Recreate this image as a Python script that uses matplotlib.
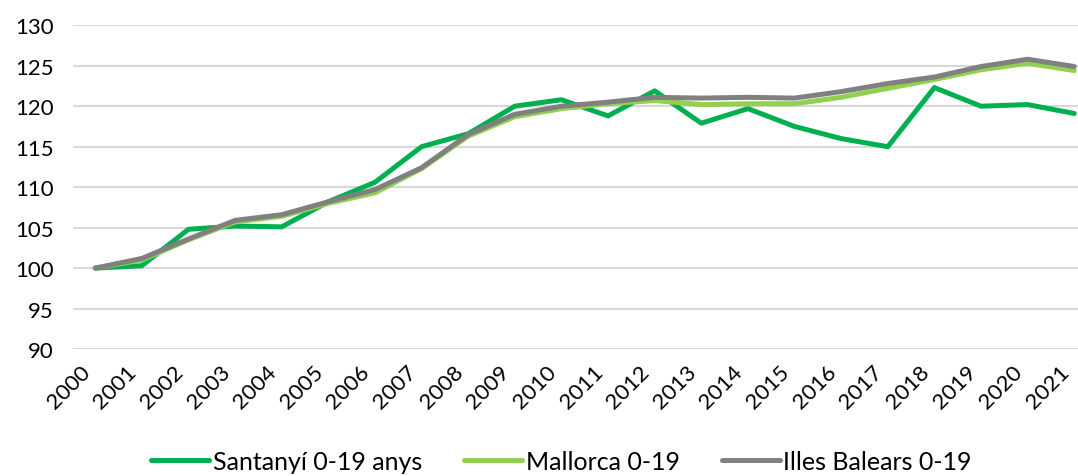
import numpy as np
import matplotlib
matplotlib.use("Agg")
from matplotlib import pyplot as plt
from matplotlib.transforms import ScaledTranslation

anys = [str(a) for a in range(2000, 2022)]

santanyi = [100.0, 100.3, 104.8, 105.2, 105.1, 108.2, 110.6, 115.0, 116.6, 120.0, 120.8,
            118.8, 121.9, 117.9, 119.7, 117.5, 116.0, 115.0, 122.3, 120.0, 120.2, 119.1]
mallorca = [100.0, 101.0, 103.5, 105.7, 106.4, 108.0, 109.3, 112.3, 116.3, 118.7, 119.7,
            120.3, 120.7, 120.2, 120.3, 120.3, 121.1, 122.2, 123.3, 124.5, 125.3, 124.4]
balears = [100.0, 101.2, 103.6, 105.9, 106.6, 108.2, 109.7, 112.4, 116.5, 119.0, 120.0,
           120.5, 121.1, 121.0, 121.1, 121.0, 121.8, 122.8, 123.6, 124.9, 125.8, 124.9]

plt.rcParams['font.family'] = ['Lato', 'DejaVu Sans']

fig = plt.figure(figsize=(10.78, 4.77), dpi=100)
ax = fig.add_axes([0.068, 0.266, 0.932, 0.679])

x = np.arange(len(anys))
ax.plot(x, santanyi, color='#00B050', lw=3.6, label='Santanyí 0-19 anys', solid_capstyle='round')
ax.plot(x, mallorca, color='#92D050', lw=3.6, label='Mallorca 0-19', solid_capstyle='round')
ax.plot(x, balears, color='#808080', lw=3.6, label='Illes Balears 0-19', solid_capstyle='round')

ax.set_ylim(90, 130)
ax.set_yticks(range(90, 131, 5))
ax.set_xlim(-0.47, 21.08)
ax.set_xticks(x)
ax.set_xticklabels(anys, rotation=45, ha='right', va='center', rotation_mode='anchor')
ax.tick_params(axis='both', length=0, labelsize=16, colors='#000000')
ax.tick_params(axis='x', pad=14)
ax.tick_params(axis='y', pad=14)
# corro una mica les etiquetes a l'esquerra perque 2021 no quedi tallat
desp = ScaledTranslation(-6 / 72, 0, fig.dpi_scale_trans)
for lab in ax.get_xticklabels():
    lab.set_transform(lab.get_transform() + desp)
ax.grid(axis='y', color='#D9D9D9', lw=1.5)
ax.set_axisbelow(True)
for s in ax.spines.values():
    s.set_visible(False)

fig.legend(loc='center', bbox_to_anchor=(0.521, 0.03), ncol=3, frameon=False,
           fontsize=18, handlelength=2.3, columnspacing=1.7, handletextpad=0.15)

fig.savefig('out.png', dpi=100)
